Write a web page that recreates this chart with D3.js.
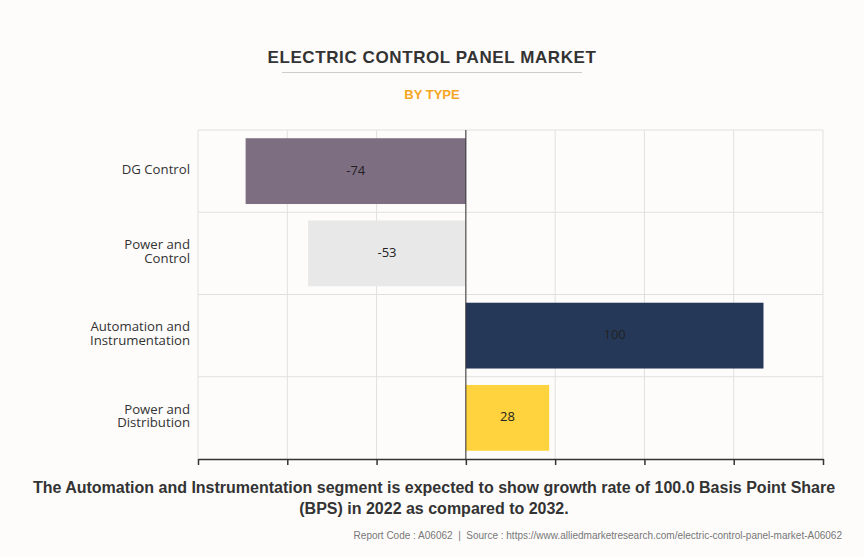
<!DOCTYPE html>
<html>
<head>
<meta charset="utf-8">
<script src="https://cdn.jsdelivr.net/npm/d3@7"></script>
<style>
  body { margin: 0; background: #fdfcfb; }
  svg { display: block; }
</style>
</head>
<body>
<svg id="chart"></svg>
<script>
// data
const categories = ["DG Control", "Power and Control", "Automation and Instrumentation", "Power and Distribution"];
const labelLines = [["DG Control"], ["Power and", "Control"], ["Automation and", "Instrumentation"], ["Power and", "Distribution"]];
const values = [-74, -53, 100, 28];
const colors = ["#7e6e82", "#e8e8e8", "#253858", "#ffd33d"];
const xTicks = [-90, -60, -30, 0, 30, 60, 90, 120];

const W = 864, H = 557;
const margin = {top: 130, right: 41, bottom: 98, left: 198};
const width = W - margin.left - margin.right,
      height = H - margin.top - margin.bottom;

const svg = d3.select("#chart").attr("width", W).attr("height", H);

// title block
svg.append("text")
    .attr("x", W / 2).attr("y", 63)
    .attr("text-anchor", "middle")
    .style("font-family", "'Liberation Sans', Arial, sans-serif")
    .style("font-weight", "bold").style("font-size", "17px")
    .style("letter-spacing", "0.6px")
    .style("fill", "#333")
    .text("ELECTRIC CONTROL PANEL MARKET");
svg.append("line")
    .attr("x1", 282).attr("x2", 582).attr("y1", 72.5).attr("y2", 72.5)
    .style("stroke", "#cccccc");
svg.append("text")
    .attr("x", W / 2).attr("y", 99)
    .attr("text-anchor", "middle")
    .style("font-family", "'Liberation Sans', Arial, sans-serif")
    .style("font-weight", "bold").style("font-size", "13px")
    .style("fill", "#f5a623")
    .text("BY TYPE");

const g = svg.append("g").attr("transform", `translate(${margin.left},${margin.top})`);

const x = d3.scaleLinear().domain([-90, 120]).range([0, width]);
const y = d3.scaleBand().domain(categories).range([0, height]).paddingInner(0.2).paddingOuter(0.1);

// grid
g.selectAll(".vgrid").data(xTicks).enter().append("line")
    .attr("x1", d => x(d)).attr("x2", d => x(d))
    .attr("y1", 0).attr("y2", height)
    .style("stroke", "#e0e0e0");
const bandEdges = categories.map(c => y(c) - y.step() * y.paddingInner() / 2);
g.selectAll(".hgrid").data(bandEdges).enter().append("line")
    .attr("x1", 0).attr("x2", width)
    .attr("y1", d => d).attr("y2", d => d)
    .style("stroke", "#e0e0e0");

// bars
g.selectAll(".bar").data(values).enter().append("rect")
    .attr("x", d => x(Math.min(0, d)))
    .attr("width", d => Math.abs(x(d) - x(0)))
    .attr("y", (d, i) => y(categories[i]))
    .attr("height", y.bandwidth())
    .style("fill", (d, i) => colors[i]);

g.selectAll(".val").data(values).enter().append("text")
    .attr("x", d => (x(d) + x(0)) / 2)
    .attr("y", (d, i) => y(categories[i]) + y.bandwidth() / 2 - 1)
    .attr("dy", "0.35em")
    .attr("text-anchor", "middle")
    .style("font-family", "'Open Sans', sans-serif").style("font-size", "13px")
    .style("fill", "#222")
    .text(d => d);

// zero line
g.append("line")
    .attr("x1", x(0)).attr("x2", x(0)).attr("y1", 0).attr("y2", height)
    .style("stroke", "#333");

// x axis, ticks only
const xAxis = g.append("g")
    .attr("transform", `translate(0,${height})`)
    .call(d3.axisBottom(x).tickValues(xTicks).tickFormat("").tickSize(6).tickSizeOuter(0));
xAxis.select(".domain").style("stroke", "#333").style("stroke-width", 1.5);
xAxis.selectAll(".tick line").style("stroke", "#333").style("stroke-width", 1.5);

// category labels
const yl = g.selectAll(".ylab").data(categories).enter().append("text")
    .attr("text-anchor", "end")
    .attr("x", -8)
    .style("font-family", "'Open Sans', sans-serif").style("font-size", "13.2px")
    .style("fill", "#333");
yl.each(function(d, i) {
    const lines = labelLines[i];
    const lh = 13.5;
    lines.forEach((t, k) => {
        d3.select(this).append("tspan")
            .attr("x", -8)
            .attr("y", y(d) + y.bandwidth() / 2 - 2 + (k - (lines.length - 1) / 2) * lh)
            .attr("dy", "0.35em")
            .text(t);
    });
});

// footer
const foot = ["The Automation and Instrumentation segment is expected to show growth rate of 100.0 Basis Point Share",
              "(BPS) in 2022 as compared to 2032."];
svg.selectAll(".foot").data(foot).enter().append("text")
    .attr("x", W / 2 + 2).attr("y", (d, i) => 493 + i * 21)
    .attr("text-anchor", "middle")
    .style("font-family", "'Liberation Sans', Arial, sans-serif")
    .style("font-weight", "bold").style("font-size", "16px")
    .style("fill", "#333")
    .text(d => d);

svg.append("text")
    .attr("x", 842).attr("y", 539)
    .attr("text-anchor", "end")
    .style("font-family", "'Liberation Sans', Arial, sans-serif")
    .style("font-size", "10px")
    .style("fill", "#777")
    .text("Report Code : A06062\u00a0\u00a0|\u00a0\u00a0Source : https://www.alliedmarketresearch.com/electric-control-panel-market-A06062");
</script>
</body>
</html>
